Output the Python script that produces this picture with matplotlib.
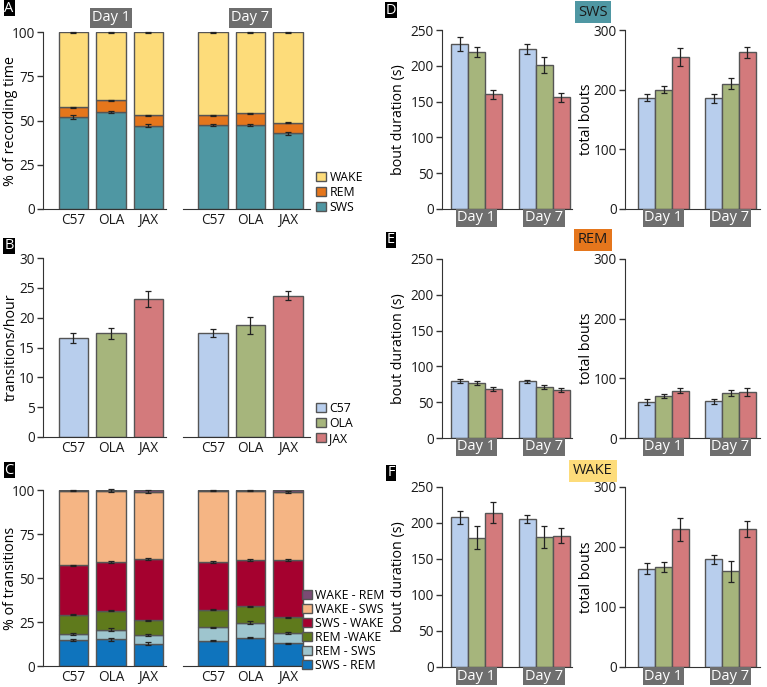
import matplotlib
matplotlib.use("Agg")
import matplotlib.pyplot as plt
import matplotlib.transforms as mtransforms
from matplotlib.patches import Patch
import numpy as np

plt.rcParams['font.family'] = ['Open Sans', 'DejaVu Sans']

# ---------------- data ----------------
strains = ['C57', 'OLA', 'JAX']
days = ['Day 1', 'Day 7']

# Panel A: % of recording time (stacked SWS, REM, WAKE)
stateA = ['SWS', 'REM', 'WAKE']
A_sws_d1 = [52.0, 54.6, 47.1]
A_rem_d1 = [5.6, 6.8, 5.8]
A_wake_d1 = [42.4, 38.6, 47.1]
A_sws_d7 = [47.5, 47.3, 42.7]
A_rem_d7 = [5.4, 6.7, 6.1]
A_wake_d7 = [47.1, 46.0, 51.2]
A_sws_err = [[0.9, 0.6, 0.7], [0.5, 0.5, 0.8]]
A_rem_err = [[0.3, 0.3, 0.3], [0.2, 0.3, 0.3]]
A_wake_err = [[0.7, 0.4, 0.6], [0.3, 0.3, 0.6]]

# Panel B: transitions/hour
B_d1 = [16.6, 17.4, 23.1]
B_d7 = [17.4, 18.7, 23.7]
B_err_d1 = [0.8, 0.9, 1.3]
B_err_d7 = [0.7, 1.45, 0.75]

# Panel C: % of transitions (stacked, bottom to top)
transC = ['SWS - REM', 'REM - SWS', 'REM -WAKE', 'SWS - WAKE', 'WAKE - SWS', 'WAKE - REM']
C_d1 = {
    'SWS - REM':  [14.8, 15.2, 12.7],
    'REM - SWS':  [3.3, 5.5, 4.8],
    'REM -WAKE':  [11.0, 10.7, 8.4],
    'SWS - WAKE': [28.1, 27.7, 34.9],
    'WAKE - SWS': [42.4, 40.5, 38.2],
    'WAKE - REM': [0.4, 0.4, 1.0],
}
C_d7 = {
    'SWS - REM':  [14.3, 16.0, 12.9],
    'REM - SWS':  [7.6, 8.7, 5.9],
    'REM -WAKE':  [10.0, 9.3, 8.8],
    'SWS - WAKE': [27.0, 26.3, 32.7],
    'WAKE - SWS': [40.8, 39.3, 38.7],
    'WAKE - REM': [0.3, 0.4, 1.0],
}
C_err_d1 = {
    'SWS - REM':  [0.4, 0.8, 0.8],
    'REM - SWS':  [0.4, 0.9, 0.6],
    'REM -WAKE':  [0.3, 0.3, 0.3],
    'SWS - WAKE': [0.4, 0.5, 0.5],
    'WAKE - SWS': [0.2, 1.0, 0.9],
}
C_err_d7 = {
    'SWS - REM':  [0.3, 0.3, 0.4],
    'REM - SWS':  [0.4, 0.8, 0.4],
    'REM -WAKE':  [0.3, 0.3, 0.3],
    'SWS - WAKE': [0.5, 0.5, 0.7],
    'WAKE - SWS': [0.3, 0.4, 0.7],
}

# Panels D-F: bout duration and total bouts; rows = strains, columns = days
D_dur = {'C57': [230.0, 223.5], 'OLA': [219.3, 200.7], 'JAX': [160.3, 156.1]}
D_dur_err = {'C57': [10, 7], 'OLA': [7, 11], 'JAX': [6.5, 6]}
D_bouts = {'C57': [186.8, 185.2], 'OLA': [199.7, 210.3], 'JAX': [254.9, 262.7]}
D_bouts_err = {'C57': [6, 8], 'OLA': [6, 9], 'JAX': [15, 9]}

E_dur = {'C57': [79.5, 79.0], 'OLA': [77.1, 71.1], 'JAX': [68.8, 66.9]}
E_dur_err = {'C57': [3, 2.5], 'OLA': [2.5, 3], 'JAX': [2.5, 3]}
E_bouts = {'C57': [60.2, 61.3], 'OLA': [70.3, 74.7], 'JAX': [79.2, 77.0]}
E_bouts_err = {'C57': [5, 4], 'OLA': [3.5, 5], 'JAX': [4, 6]}

F_dur = {'C57': [207.9, 205.6], 'OLA': [179.6, 180.6], 'JAX': [214.4, 182.4]}
F_dur_err = {'C57': [9, 6], 'OLA': [16, 15], 'JAX': [15, 10]}
F_bouts = {'C57': [164.0, 179.2], 'OLA': [166.2, 159.5], 'JAX': [229.2, 229.8]}
F_bouts_err = {'C57': [9, 7], 'OLA': [8, 17], 'JAX': [19, 13]}

# ---------------- styles ----------------
state_colors = {'SWS': '#4f97a3', 'REM': '#e5761c', 'WAKE': '#fddc7a'}
strain_colors = {'C57': '#b8ceed', 'OLA': '#a6b57c', 'JAX': '#d37a7c'}
trans_colors = {
    'SWS - REM': '#0f74bd', 'REM - SWS': '#9ec5ce', 'REM -WAKE': '#5f7a1c',
    'SWS - WAKE': '#a5012f', 'WAKE - SWS': '#f5b584', 'WAKE - REM': '#7a4b74',
}
edge = '#555555'
spine_c = '#333333'
DAYBOX = '#6e6e6e'
TICK_FS = 9.8

W, H = 767, 687
fig = plt.figure(figsize=(W / 100, H / 100), dpi=100)


def px_axes(left, top, right, bottom):
    return fig.add_axes([left / W, 1 - bottom / H, (right - left) / W, (bottom - top) / H])


def style_axes(ax, show_left=True):
    for s in ['top', 'right']:
        ax.spines[s].set_visible(False)
    ax.spines['bottom'].set_color(spine_c)
    ax.spines['left'].set_color(spine_c)
    ax.tick_params(axis='both', colors=spine_c, labelcolor='#1a1a1a', labelsize=TICK_FS,
                   length=4, width=1, pad=2)
    ax.tick_params(axis='x', length=0, pad=3)
    if not show_left:
        ax.spines['left'].set_visible(False)
        ax.set_yticks([])


eb_kw = dict(fmt='none', ecolor='#222222', elinewidth=0.9, capsize=2.5, capthick=0.9)
xs = np.arange(len(strains))
bw = 0.78


def stacked(ax, segs, errs, order, colors):
    bottom = np.zeros(len(strains))
    for name in order:
        vals = np.array(segs[name])
        ax.bar(xs, vals, bw, bottom=bottom, color=colors[name], edgecolor=edge, linewidth=1)
        bottom = bottom + vals
        if name in errs:
            ax.errorbar(xs, bottom, yerr=errs[name], clip_on=False, **eb_kw)
    return bottom


# ----- Panel A -----
A_segs = [
    {'SWS': A_sws_d1, 'REM': A_rem_d1, 'WAKE': A_wake_d1},
    {'SWS': A_sws_d7, 'REM': A_rem_d7, 'WAKE': A_wake_d7},
]
A_errs = [
    {'SWS': A_sws_err[0], 'REM': A_rem_err[0]},
    {'SWS': A_sws_err[1], 'REM': A_rem_err[1]},
]
lefts_rights = [(43, 166, -0.81, 2.47), (183, 310, -0.8, 2.59)]
for d in range(2):
    l, r, x0, x1 = lefts_rights[d]
    ax = px_axes(l, 32, r, 209)
    top = stacked(ax, A_segs[d], A_errs[d], stateA, state_colors)
    ax.errorbar(xs, top, yerr=[A_wake_err[d], [0, 0, 0]], clip_on=False, **eb_kw)
    ax.set_xlim(x0, x1)
    ax.set_ylim(0, 100)
    style_axes(ax, show_left=(d == 0))
    ax.set_xticks(xs, strains)
    if d == 0:
        ax.set_yticks([0, 25, 50, 75, 100])
        ax.set_ylabel('% of recording time', fontsize=10.3)
        ax.yaxis.set_label_coords(-0.2, 0.5)
    tr = mtransforms.blended_transform_factory(ax.transData, ax.transAxes)
    ax.text(1, 1.08, days[d], transform=tr, ha='center', va='center',
            color='white', fontsize=10.5,
            bbox=dict(boxstyle='square,pad=0.15', fc=DAYBOX, ec='none'))
fig.legend(handles=[Patch(fc=state_colors[s], ec=edge, label=s) for s in ['WAKE', 'REM', 'SWS']],
           loc='upper left', bbox_to_anchor=(316 / W, 1 - 171 / H), frameon=False,
           fontsize=8.8, handlelength=0.8, handleheight=0.8, handletextpad=0.3,
           labelspacing=0.15, borderpad=0, borderaxespad=0)

# ----- Panel B -----
B_vals = [B_d1, B_d7]
B_errs = [B_err_d1, B_err_d7]
for d in range(2):
    l, r, x0, x1 = lefts_rights[d]
    ax = px_axes(l, 258, r, 437)
    ax.bar(xs, B_vals[d], bw, color=[strain_colors[s] for s in strains], edgecolor=edge, linewidth=1)
    ax.errorbar(xs, B_vals[d], yerr=B_errs[d], **eb_kw)
    ax.set_xlim(x0, x1)
    ax.set_ylim(0, 30)
    style_axes(ax, show_left=(d == 0))
    ax.set_xticks(xs, strains)
    if d == 0:
        ax.set_yticks(range(0, 31, 5))
        ax.set_ylabel('transitions/hour', fontsize=10.3)
        ax.yaxis.set_label_coords(-0.2, 0.5)
fig.legend(handles=[Patch(fc=strain_colors[s], ec=edge, label=s) for s in strains],
           loc='upper left', bbox_to_anchor=(316 / W, 1 - 402 / H), frameon=False,
           fontsize=8.8, handlelength=0.8, handleheight=0.8, handletextpad=0.3,
           labelspacing=0.15, borderpad=0, borderaxespad=0)

# ----- Panel C -----
C_segs = [C_d1, C_d7]
C_errs = [C_err_d1, C_err_d7]
for d in range(2):
    l, r, x0, x1 = lefts_rights[d]
    ax = px_axes(l, 490, r, 666)
    stacked(ax, C_segs[d], C_errs[d], transC, trans_colors)
    ax.set_xlim(x0, x1)
    ax.set_ylim(0, 100)
    style_axes(ax, show_left=(d == 0))
    ax.set_xticks(xs, strains)
    if d == 0:
        ax.set_yticks([0, 25, 50, 75, 100])
        ax.set_ylabel('% of transitions', fontsize=10.3)
        ax.yaxis.set_label_coords(-0.2, 0.5)
fig.legend(handles=[Patch(fc=trans_colors[t], ec=edge, label=t) for t in transC[::-1]],
           loc='upper left', bbox_to_anchor=(302 / W, 1 - 589 / H), frameon=False,
           fontsize=8.8, handlelength=0.8, handleheight=0.8, handletextpad=0.3,
           labelspacing=0.08, borderpad=0, borderaxespad=0)


# ----- Panels D-F -----
def grouped(ax, vals, errs, ymax, yticks, ylabel, xlim, labx):
    gx = np.arange(len(days))
    off = 0.25
    for i, s in enumerate(strains):
        pos = gx + (i - 1) * off
        ax.bar(pos, vals[s], off, color=strain_colors[s], edgecolor=edge, linewidth=1)
        ax.errorbar(pos, vals[s], yerr=errs[s], **eb_kw)
    ax.set_xlim(*xlim)
    ax.set_ylim(0, ymax)
    style_axes(ax)
    ax.set_yticks(yticks)
    ax.set_xticks([])
    ax.set_ylabel(ylabel, fontsize=10.3)
    ax.yaxis.set_label_coords(labx, 0.5)
    trans = mtransforms.blended_transform_factory(ax.transData, ax.transAxes)
    for g, dname in zip(gx, days):
        ax.text(g, -0.05, dname, transform=trans, ha='center', va='center', color='white',
                fontsize=10.5, bbox=dict(boxstyle='square,pad=0.12', fc=DAYBOX, ec='none'))


rows = [
    (30, 209, D_dur, D_dur_err, D_bouts, D_bouts_err, 'SWS', state_colors['SWS'], 12),
    (259, 438, E_dur, E_dur_err, E_bouts, E_bouts_err, 'REM', state_colors['REM'], 240),
    (487, 667, F_dur, F_dur_err, F_bouts, F_bouts_err, 'WAKE', state_colors['WAKE'], 471),
]
for top, bot, dur, durerr, bouts, boutserr, title, tcol, ty in rows:
    axl = px_axes(442, top, 572, bot)
    grouped(axl, dur, durerr, 250, range(0, 251, 50), 'bout duration (s)', (-0.51, 1.41), -0.28)
    axr = px_axes(625, top, 760, bot)
    grouped(axr, bouts, boutserr, 300, [0, 100, 200, 300], 'total bouts', (-0.575, 1.44), -0.23)
    fig.text(593 / W, 1 - ty / H, title, ha='center', va='center', fontsize=10.5, color='#1a1a1a',
             bbox=dict(boxstyle='square,pad=0.25', fc=tcol, ec='none'))

# panel letters
for letter, x, y in [('A', 9, 8), ('B', 9, 246), ('C', 9, 470),
                     ('D', 391, 10), ('E', 391, 240), ('F', 391, 473)]:
    fig.text(x / W, 1 - y / H, letter, ha='center', va='center', fontsize=10.5, color='white',
             bbox=dict(boxstyle='square,pad=0.06', fc='black', ec='none'))

fig.savefig('out.png', dpi=100)
